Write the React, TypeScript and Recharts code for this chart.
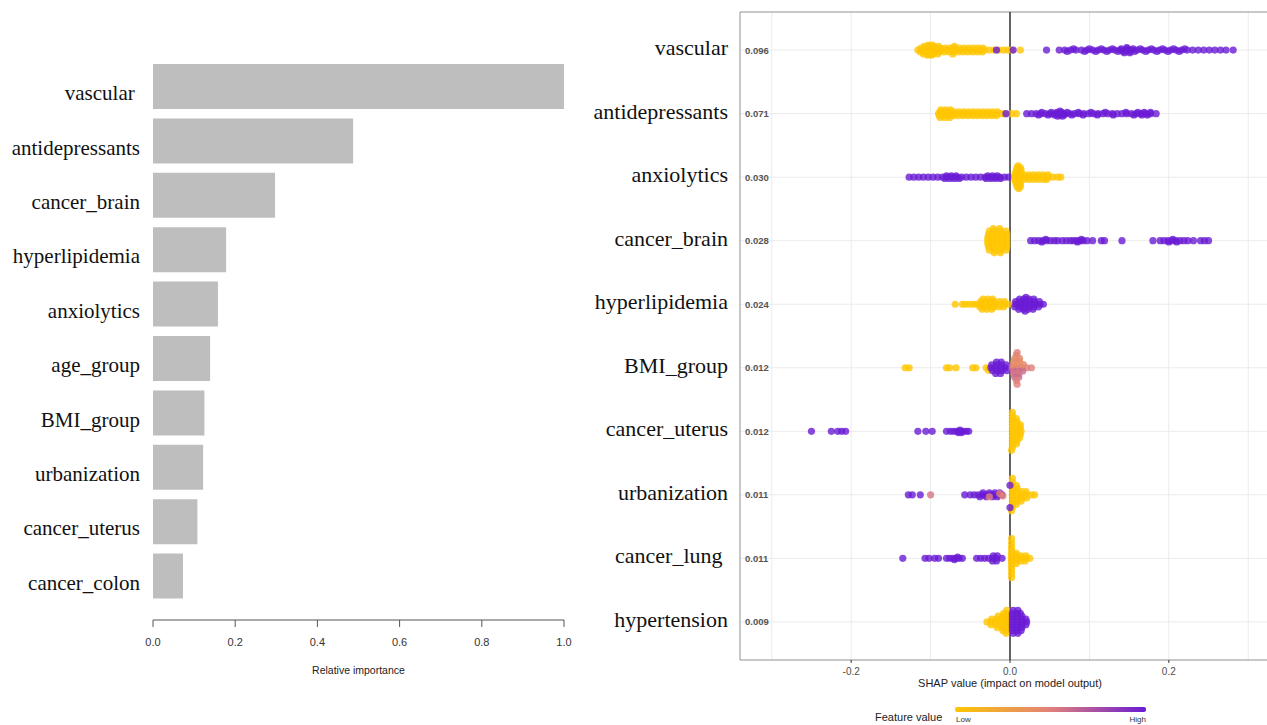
import React from "react";
import {
    BarChart,
    Bar,
    ScatterChart,
    Scatter,
    XAxis,
    YAxis,
    CartesianGrid,
    ReferenceLine,
    ReferenceArea,
} from "recharts";

// ---- left panel: relative importance ----
const importanceNames = [
    "vascular ",
    "antidepressants",
    "cancer_brain",
    "hyperlipidemia",
    "anxiolytics",
    "age_group",
    "BMI_group",
    "urbanization",
    "cancer_uterus",
    "cancer_colon",
];
const importanceValues = [1.0, 0.487, 0.297, 0.178, 0.158, 0.139, 0.125, 0.122, 0.108, 0.073];
const importanceTicks = [0, 0.2, 0.4, 0.6, 0.8, 1.0];

// ---- right panel: SHAP summary ----
const shapFeatures = [
    "vascular",
    "antidepressants",
    "anxiolytics",
    "cancer_brain",
    "hyperlipidemia",
    "BMI_group",
    "cancer_uterus",
    "urbanization",
    "cancer_lung ",
    "hypertension",
];
const shapMeanAbs = ["0.096", "0.071", "0.030", "0.028", "0.024", "0.012", "0.012", "0.011", "0.011", "0.009"];
const shapTicks = [-0.3, -0.2, -0.1, 0, 0.1, 0.2, 0.3];
const shapLabelled = [-0.2, 0, 0.2];
const rowTicks = [1, 2, 3, 4, 5, 6, 7, 8, 9, 10];

// [feature value 0..1, vertical jitter (rows), shap values]
type Group = [number, number, number[]];

const vascularPts: Group[] = [
    [0, 0, [-0.116, -0.11, -0.104, -0.098, -0.092, -0.086, -0.08, -0.074, -0.068, -0.062, -0.056, -0.05, -0.044, -0.038, -0.032, -0.026, -0.02, -0.014, -0.008, -0.003, 0.002, 0.013]],
    [0, 0.03, [-0.113, -0.107, -0.101, -0.095, -0.089, -0.083, -0.077, -0.071, -0.065, -0.059, -0.053, -0.047, -0.041, -0.035]],
    [0, -0.03, [-0.112, -0.106, -0.1, -0.094, -0.088, -0.082, -0.076, -0.07, -0.064, -0.058, -0.052, -0.046, -0.04, -0.034]],
    [0, 0.06, [-0.109, -0.103, -0.097, -0.091, -0.072]],
    [0, -0.06, [-0.108, -0.102, -0.096, -0.09, -0.07]],
    [0, 0.08, [-0.104, -0.099]],
    [0, -0.08, [-0.103, -0.098]],
    [1, 0, [-0.017, 0.004, 0.046, 0.062, 0.069, 0.076, 0.083, 0.09, 0.097, 0.104, 0.111, 0.118, 0.125, 0.132, 0.139, 0.146, 0.153, 0.16, 0.167, 0.174, 0.181, 0.188, 0.195, 0.202, 0.209, 0.216, 0.223, 0.23, 0.237, 0.244, 0.251, 0.258, 0.265, 0.272, 0.281]],
    [1, 0.02, [0.072, 0.094, 0.108, 0.122, 0.136, 0.143, 0.15, 0.157, 0.171, 0.185, 0.199, 0.213]],
    [1, -0.02, [0.08, 0.1, 0.115, 0.129, 0.14, 0.148, 0.155, 0.164, 0.178, 0.192, 0.206, 0.22]],
    [1, 0.04, [0.144, 0.151]],
    [1, -0.04, [0.147]],
];

const antidepressantsPts: Group[] = [
    [0, 0, [-0.09, -0.084, -0.078, -0.072, -0.066, -0.06, -0.054, -0.048, -0.042, -0.036, -0.03, -0.024, -0.018, -0.012, -0.007, 0.002, 0.008]],
    [0, 0.03, [-0.089, -0.083, -0.077, -0.071, -0.065, -0.059, -0.053, -0.047, -0.041, -0.035, -0.029, -0.023, -0.017]],
    [0, -0.03, [-0.088, -0.082, -0.076, -0.07, -0.064, -0.058, -0.052, -0.046, -0.04, -0.034, -0.028, -0.022, -0.016]],
    [0, 0.06, [-0.088, -0.082, -0.076]],
    [0, -0.06, [-0.087, -0.081, -0.075]],
    [1, 0, [-0.005, 0.021, 0.027, 0.033, 0.039, 0.045, 0.051, 0.057, 0.063, 0.069, 0.075, 0.081, 0.087, 0.093, 0.099, 0.105, 0.111, 0.117, 0.123, 0.129, 0.135, 0.141, 0.147, 0.153, 0.159, 0.165, 0.171, 0.177, 0.184]],
    [1, 0.02, [0.036, 0.048, 0.056, 0.062, 0.068, 0.078, 0.092, 0.11, 0.13, 0.156, 0.166, 0.173]],
    [1, -0.02, [0.04, 0.052, 0.059, 0.065, 0.072, 0.086, 0.102, 0.12, 0.146, 0.161, 0.169, 0.177]],
    [1, 0.04, [0.06, 0.066]],
    [1, -0.04, [0.063]],
];

const anxiolyticsPts: Group[] = [
    [1, 0, [-0.127, -0.121, -0.115, -0.109, -0.103, -0.097, -0.091, -0.085, -0.079, -0.073, -0.067, -0.061, -0.055, -0.049, -0.043, -0.037, -0.031, -0.025, -0.019, -0.013, -0.007, -0.002]],
    [1, 0.02, [-0.082, -0.076, -0.07, -0.064, -0.03, -0.024, -0.018, -0.012]],
    [1, -0.02, [-0.08, -0.074, -0.068, -0.028, -0.022, -0.016]],
    [0, 0, [0.006, 0.012, 0.018, 0.024, 0.03, 0.036, 0.042, 0.048, 0.054, 0.06, 0.064]],
    [0, 0.035, [0.006, 0.012, 0.018, 0.024, 0.03, 0.036, 0.042, 0.046]],
    [0, -0.035, [0.006, 0.012, 0.018, 0.024, 0.03, 0.036, 0.042, 0.048]],
    [0, 0.07, [0.007, 0.013]],
    [0, -0.07, [0.007, 0.013]],
    [0, 0.11, [0.008, 0.013]],
    [0, -0.11, [0.008, 0.014]],
    [0, 0.15, [0.009, 0.013]],
    [0, -0.15, [0.009, 0.013]],
    [0, 0.18, [0.011]],
    [0, -0.18, [0.01]],
];

const cancerBrainPts: Group[] = [
    [0, 0, [-0.028, -0.022, -0.016, -0.01, -0.004]],
    [0, 0.05, [-0.028, -0.022, -0.016, -0.01, -0.004]],
    [0, -0.05, [-0.028, -0.022, -0.016, -0.01, -0.004]],
    [0, 0.1, [-0.027, -0.021, -0.015, -0.009, -0.004]],
    [0, -0.1, [-0.027, -0.021, -0.015, -0.009, -0.004]],
    [0, 0.15, [-0.026, -0.019, -0.012, -0.005]],
    [0, -0.15, [-0.026, -0.019, -0.012, -0.005]],
    [0, 0.19, [-0.02, -0.012]],
    [0, -0.19, [-0.021, -0.013]],
    [1, 0, [0.026, 0.031, 0.036, 0.041, 0.046, 0.051, 0.056, 0.06, 0.066, 0.071, 0.076, 0.08, 0.084, 0.088, 0.092, 0.097, 0.104, 0.115, 0.119, 0.141, 0.18, 0.189, 0.194, 0.199, 0.204, 0.209, 0.214, 0.219, 0.224, 0.231, 0.24, 0.245, 0.25]],
    [1, 0.02, [0.04, 0.085, 0.2, 0.21]],
    [1, -0.02, [0.045, 0.09, 0.205]],
];

const hyperlipidemiaPts: Group[] = [
    [0, 0, [-0.069, -0.06, -0.056, -0.051, -0.046, -0.042, -0.037, -0.031, -0.025, -0.019, -0.013, -0.007, -0.002]],
    [0, 0.04, [-0.038, -0.032, -0.026, -0.02, -0.014, -0.008]],
    [0, -0.04, [-0.037, -0.031, -0.025, -0.019, -0.013, -0.007]],
    [0, 0.08, [-0.035, -0.029, -0.023]],
    [0, -0.08, [-0.034, -0.028, -0.022]],
    [0.3, 0, [0.005]],
    [1, 0, [0.008, 0.014, 0.02, 0.026, 0.032, 0.038, 0.042]],
    [1, 0.04, [0.006, 0.012, 0.018, 0.024, 0.03, 0.036]],
    [1, -0.04, [0.007, 0.013, 0.019, 0.025, 0.031, 0.037]],
    [1, 0.08, [0.011, 0.017, 0.023, 0.029]],
    [1, -0.08, [0.012, 0.018, 0.024, 0.03]],
    [1, 0.11, [0.019]],
    [1, -0.11, [0.02]],
];

const bmiPts: Group[] = [
    [0, 0, [-0.132, -0.127, -0.08, -0.076, -0.068, -0.047, -0.043, -0.03, -0.026]],
    [0, 0.04, [-0.027]],
    [1, 0, [-0.024, -0.018, -0.012, -0.006]],
    [1, 0.045, [-0.022, -0.016, -0.01, -0.004]],
    [1, -0.045, [-0.023, -0.017, -0.011, -0.005]],
    [1, 0.09, [-0.018, -0.012]],
    [1, -0.09, [-0.017, -0.011]],
    [0.5, 0, [0.003, 0.009, 0.015, 0.021, 0.027]],
    [0.6, 0.05, [0.004, 0.01, 0.016]],
    [0.45, -0.05, [0.004, 0.01, 0.017]],
    [0.55, 0.1, [0.005, 0.011]],
    [0.4, -0.1, [0.005, 0.012]],
    [0.6, 0.15, [0.006, 0.011]],
    [0.45, -0.15, [0.006, 0.012]],
    [0.5, 0.2, [0.008]],
    [0.4, -0.2, [0.008]],
    [0.5, 0.26, [0.009]],
    [0.5, -0.24, [0.009]],
];

const cancerUterusPts: Group[] = [
    [1, 0, [-0.25, -0.225, -0.217, -0.212, -0.207, -0.116, -0.106, -0.098, -0.08, -0.075, -0.071, -0.067, -0.063, -0.059, -0.055, -0.052]],
    [1, 0.02, [-0.065, -0.061]],
    [1, -0.02, [-0.063]],
    [0, 0, [0.003, 0.009, 0.014]],
    [0, 0.05, [0.003, 0.009, 0.013]],
    [0, -0.05, [0.003, 0.009, 0.013]],
    [0, 0.1, [0.003, 0.009, 0.012]],
    [0, -0.1, [0.003, 0.009, 0.013]],
    [0, 0.15, [0.003, 0.009]],
    [0, -0.15, [0.003, 0.009]],
    [0, 0.2, [0.003, 0.008]],
    [0, -0.2, [0.003, 0.008]],
    [0, 0.25, [0.003]],
    [0, -0.25, [0.003]],
    [0, 0.3, [0.002]],
    [0, -0.3, [0.003]],
];

const urbanizationPts: Group[] = [
    [1, 0, [-0.128, -0.123, -0.113, -0.057, -0.05, -0.045, -0.04, -0.035, -0.03, -0.025, -0.02, -0.015, -0.01]],
    [1, 0.03, [-0.038, -0.03, -0.022, -0.016]],
    [1, -0.03, [-0.034, -0.026, -0.019, -0.013]],
    [0.55, 0, [-0.1]],
    [0.5, 0.03, [-0.026]],
    [0.5, -0.02, [-0.013]],
    [0.45, 0.02, [-0.009]],
    [0, 0, [0.003, 0.009, 0.015, 0.021, 0.027, 0.031]],
    [0, 0.05, [0.003, 0.009, 0.015, 0.021]],
    [0, -0.05, [0.003, 0.009, 0.015, 0.02]],
    [0, 0.1, [0.003, 0.009, 0.014]],
    [0, -0.1, [0.003, 0.009]],
    [0, 0.15, [0.003, 0.008]],
    [0, -0.15, [0.003, 0.008]],
    [0, 0.2, [0.003]],
    [0, -0.2, [0.003]],
    [0, 0.25, [0.002]],
    [0, -0.26, [0.003]],
    [1, 0.2, [0.0]],
    [1, -0.15, [0.0]],
];

const cancerLungPts: Group[] = [
    [1, 0, [-0.135, -0.107, -0.102, -0.095, -0.09, -0.08, -0.076, -0.072, -0.068, -0.064, -0.06, -0.042, -0.037, -0.032, -0.027, -0.022, -0.017, -0.01]],
    [1, 0.02, [-0.07]],
    [1, -0.02, [-0.066]],
    [1, 0.04, [-0.022, -0.017]],
    [1, -0.04, [-0.021, -0.016]],
    [0, 0, [0.002, 0.008, 0.014, 0.02, 0.025]],
    [0, 0.04, [0.002, 0.008, 0.014, 0.019]],
    [0, -0.04, [0.002, 0.008, 0.014, 0.02]],
    [0, 0.08, [0.002, 0.008]],
    [0, -0.08, [0.002, 0.008]],
    [0, 0.13, [0.002]],
    [0, -0.13, [0.002]],
    [0, 0.18, [0.002]],
    [0, -0.18, [0.002]],
    [0, 0.24, [0.002]],
    [0, -0.24, [0.002]],
    [0, 0.3, [0.002]],
    [0, -0.31, [0.002]],
];

const hypertensionPts: Group[] = [
    [0, 0, [-0.029, -0.024, -0.018, -0.012, -0.006, -0.002]],
    [0, 0.045, [-0.024, -0.018, -0.012, -0.006, -0.002]],
    [0, -0.045, [-0.023, -0.017, -0.011, -0.005, -0.002]],
    [0, 0.09, [-0.016, -0.01, -0.005, -0.002]],
    [0, -0.09, [-0.015, -0.009, -0.004]],
    [0, 0.135, [-0.009, -0.004]],
    [0, -0.135, [-0.008, -0.003]],
    [0, 0.18, [-0.005]],
    [0, -0.18, [-0.004]],
    [1, 0, [0.003, 0.009, 0.015, 0.021]],
    [1, 0.045, [0.003, 0.009, 0.015, 0.02]],
    [1, -0.045, [0.003, 0.009, 0.015, 0.02]],
    [1, 0.09, [0.003, 0.009, 0.015]],
    [1, -0.09, [0.003, 0.009, 0.015]],
    [1, 0.135, [0.003, 0.009, 0.014]],
    [1, -0.135, [0.003, 0.009, 0.013]],
    [1, 0.18, [0.004, 0.01]],
    [1, -0.18, [0.004, 0.01]],
];

const shapRows: Group[][] = [
    vascularPts,
    antidepressantsPts,
    anxiolyticsPts,
    cancerBrainPts,
    hyperlipidemiaPts,
    bmiPts,
    cancerUterusPts,
    urbanizationPts,
    cancerLungPts,
    hypertensionPts,
];

const importanceData = importanceNames.map((name, i) => ({ name, value: importanceValues[i] }));

const shapData = shapRows.flatMap((groups, row) =>
    groups.flatMap(([fv, dy, xs]) => xs.map((x) => ({ shap: x, pos: row + 1 + dy, fv })))
);

const LOW = [255, 198, 0];
const MID = [224, 128, 122];
const HIGH = [106, 27, 212];

function featureColor(fv: number) {
    const [a, b, t] = fv < 0.5 ? [LOW, MID, fv * 2] : [MID, HIGH, (fv - 0.5) * 2];
    const c = a.map((v, k) => Math.round(v + (b[k] - v) * t));
    return `rgb(${c.join(",")})`;
}

const SANS = "'Liberation Sans', Arial, sans-serif";
const SERIF = "'Liberation Serif', 'Times New Roman', serif";

const renderNameTick = (props: any) => {
    const { x, y, payload } = props;
    return (
        <text x={x} y={y} dy={14} textAnchor="end" fontFamily={SERIF} fontSize={21} fill="#111" style={{ whiteSpace: "pre" }}>
            {payload.value}
        </text>
    );
};

const renderFeatureTick = (props: any) => {
    const { x, y, payload } = props;
    const i = payload.value - 1;
    return (
        <g>
            <text x={x} y={y} dy={5} textAnchor="end" fontFamily={SERIF} fontSize={22} fill="#111" style={{ whiteSpace: "pre" }}>
                {shapFeatures[i]}
            </text>
            <text x={x + 17} y={y} dy={3.5} fontFamily={SANS} fontSize={9.5} fontWeight="bold" fill="#555">
                {shapMeanAbs[i]}
            </text>
        </g>
    );
};

const renderShapTick = (props: any) => {
    const { x, y, payload } = props;
    if (!shapLabelled.includes(payload.value)) return <g />;
    return (
        <g>
            <line x1={x} x2={x} y1={y} y2={y + 3} stroke="#333" />
            <text x={x} y={y} dy={15} textAnchor="middle" fontFamily={SANS} fontSize={10} fill="#4d4d4d">
                {payload.value.toFixed(1)}
            </text>
        </g>
    );
};

const renderDot = (props: any) => (
    <circle cx={props.cx} cy={props.cy} r={3.6} fill={featureColor(props.payload.fv)} fillOpacity={0.8} />
);

export default function App() {
    return (
        <div style={{ position: "absolute", left: 0, top: 0, width: 1267, height: 725, overflow: "hidden", background: "#fff" }}>
            <div style={{ position: "absolute", left: 0, top: 0 }}>
                <BarChart
                    width={590}
                    height={700}
                    data={importanceData}
                    layout="vertical"
                    margin={{ top: 59, right: 26, bottom: 0, left: 0 }}
                >
                    <XAxis
                        type="number"
                        domain={[0, 1]}
                        ticks={importanceTicks}
                        tickFormatter={(v) => v.toFixed(1)}
                        height={80}
                        stroke="#555"
                        tickSize={7}
                        tickMargin={11}
                        tick={{ fill: "#333", fontSize: 11, fontFamily: SANS }}
                        label={{ value: "Relative importance", position: "insideBottom", offset: 26, fill: "#222", fontSize: 10.5, fontFamily: SANS }}
                    />
                    <YAxis
                        type="category"
                        dataKey="name"
                        width={153}
                        axisLine={false}
                        tickLine={false}
                        tickSize={0}
                        tickMargin={13}
                        padding={{ top: 0, bottom: 17 }}
                        interval={0}
                        tick={renderNameTick}
                    />
                    <Bar dataKey="value" fill="#BEBEBE" barSize={45} isAnimationActive={false} />
                </BarChart>
            </div>

            <div style={{ position: "absolute", left: 560, top: 0 }}>
                <ScatterChart width={720} height={725} margin={{ top: 12, right: 0, bottom: 0, left: 0 }}>
                    <CartesianGrid stroke="#ebebeb" />
                    <ReferenceArea x1={-0.34} x2={0.34} y1={0.4} y2={10.6} fill="none" stroke="#9a9a9a" />
                    <XAxis
                        type="number"
                        dataKey="shap"
                        domain={[-0.34, 0.34]}
                        ticks={shapTicks}
                        interval={0}
                        height={65}
                        axisLine={false}
                        tickLine={false}
                        tickSize={0}
                        tickMargin={0}
                        allowDataOverflow
                        tick={renderShapTick}
                        label={{ value: "SHAP value (impact on model output)", position: "insideBottom", offset: 38, fill: "#222", fontSize: 11, fontFamily: SANS }}
                    />
                    <YAxis
                        type="number"
                        dataKey="pos"
                        domain={[0.4, 10.6]}
                        reversed
                        ticks={rowTicks}
                        interval={0}
                        width={180}
                        axisLine={false}
                        tickLine={false}
                        tickSize={0}
                        tickMargin={12}
                        allowDataOverflow
                        tick={renderFeatureTick}
                    />
                    <ReferenceLine x={0} stroke="#333" strokeWidth={1.5} />
                    <Scatter data={shapData} shape={renderDot} isAnimationActive={false} />
                </ScatterChart>
            </div>

            <svg width={1267} height={725} style={{ position: "absolute", left: 0, top: 0, pointerEvents: "none" }}>
                <defs>
                    <linearGradient id="fvGrad" x1="0" x2="1" y1="0" y2="0">
                        <stop offset="0%" stopColor={featureColor(0)} />
                        <stop offset="50%" stopColor={featureColor(0.5)} />
                        <stop offset="100%" stopColor={featureColor(1)} />
                    </linearGradient>
                </defs>
                <rect x={955} y={707} width={191} height={5} rx={2} fill="url(#fvGrad)" />
                <text x={875} y={721} fontFamily={SANS} fontSize={11} fill="#222">Feature value</text>
                <text x={956} y={722} fontFamily={SANS} fontSize={8} fill="#333">Low</text>
                <text x={1146} y={722} textAnchor="end" fontFamily={SANS} fontSize={8} fill="#333">High</text>
            </svg>
        </div>
    );
}
